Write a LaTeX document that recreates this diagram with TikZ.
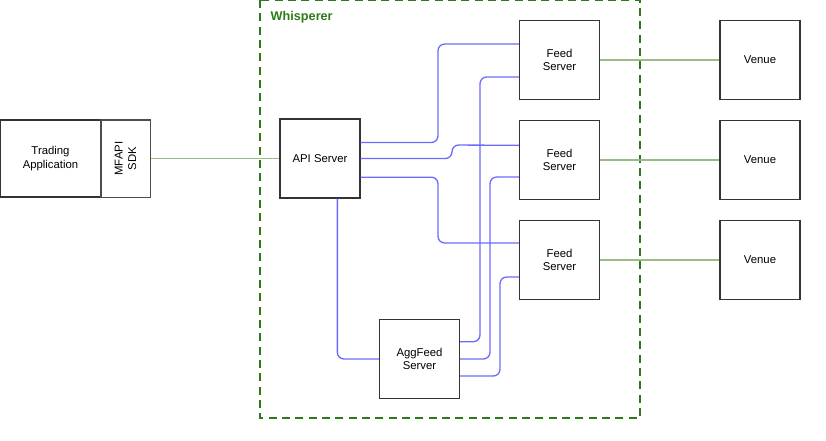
\documentclass[tikz,border=0pt]{standalone}
\usepackage{fontspec}
\setmainfont{Liberation Sans}
\usetikzlibrary{positioning}
\definecolor{boxgreen}{HTML}{2D7A1B}
\definecolor{linkgreen}{HTML}{97BC86}
\definecolor{linkblue}{HTML}{6B6BFF}
\begin{document}
\begin{tikzpicture}[x=0.75pt, y=-0.75pt, font=\fontsize{8.5}{10}\selectfont,
  box/.style={draw=black!80, line width=1.1pt, fill=white, align=center, minimum width=60pt, minimum height=59pt, inner sep=1pt},
  feed/.style={draw=linkgreen, line width=1.2pt},
  wire/.style={draw=linkblue, line width=1pt, rounded corners=5pt}]
  \useasboundingbox (0,0) rectangle (826,440);

  % Whisperer frame
  \draw[boxgreen, dashed, dash pattern=on 6pt off 4pt, line width=0.8pt] (260,0) rectangle (640,418);
  \node[anchor=west, text=boxgreen, font=\fontsize{9.5}{10}\selectfont\bfseries] (whisp) at (266,17) {Whisperer};

  % Client side
  \node[box, minimum width=76pt, minimum height=58pt] (app) at (50.5,158.5) {Trading\\Application};
  \node[box, minimum width=58pt, minimum height=37pt, draw=black!70, line width=1pt, rotate=90] (sdk) at (125.5,158.5) {MFAPI\\SDK};

  % Servers
  \node[box] (api) at (320,158.5) {API Server};
  \node[box] (feedA) at (559.5,60) {Feed\\Server};
  \node[box] (feedB) at (559.5,160) {Feed\\Server};
  \node[box] (feedC) at (559.5,260) {Feed\\Server};
  \node[box] (agg) at (419.5,359) {AggFeed\\Server};

  % Venues
  \foreach \n/\y in {A/60,B/160,C/260}
    \node[box] (venue\n) at (760,\y) {Venue};

  % Green links
  \draw[feed] (sdk.south) -- (api.west);
  \draw[feed] (feedA.east) -- (venueA.west);
  \draw[feed] (feedB.east) -- (venueB.west);
  \draw[feed] (feedC.east) -- (venueC.west);

  % Blue links
  \draw[wire] ([yshift=12pt]api.east) -| (438,44) -- ([yshift=12pt]feedA.west);
  \draw[wire] (api.east) -| (452,145) -- ([yshift=11pt]feedB.west);
  \draw[wire] ([yshift=-14pt]api.east) -| (438,243) -- ([yshift=12.75pt]feedC.west);
  \draw[wire] ([xshift=13pt]api.south) |- (agg.west);
  \draw[wire] ([yshift=13pt]agg.east) -| (480,77) -- ([yshift=-12.75pt]feedA.west);
  \draw[wire] (agg.east) -| (490,177) -- ([yshift=-12.75pt]feedB.west);
  \draw[wire] ([yshift=-12.75pt]agg.east) -| (500,277) -- ([yshift=-12.75pt]feedC.west);
\end{tikzpicture}
\end{document}
